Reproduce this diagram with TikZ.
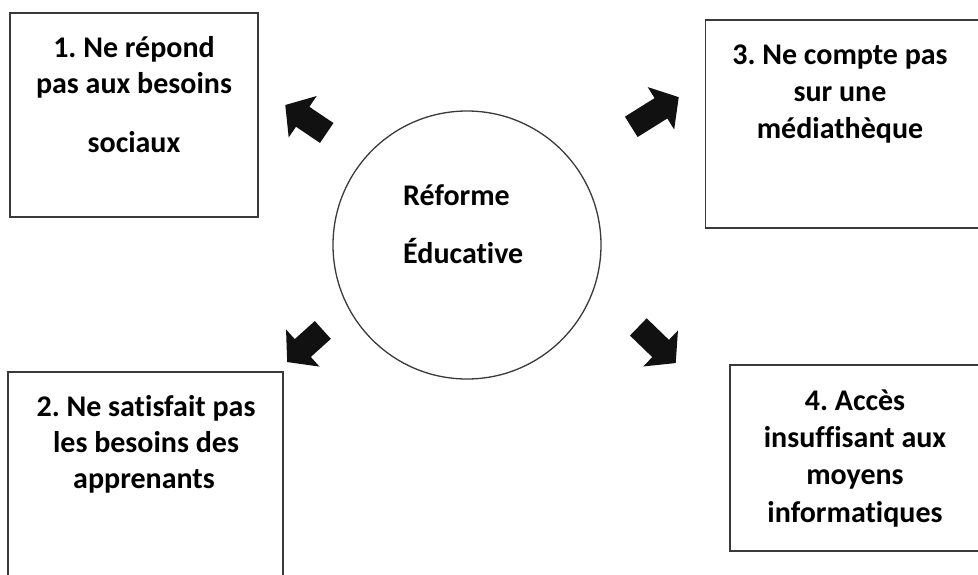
\documentclass[tikz,border=0pt]{standalone}
\usepackage{fontspec}
\setmainfont[Ligatures=NoCommon]{Carlito}
\definecolor{linegray}{HTML}{3A3A3A}
\definecolor{inkblack}{HTML}{111111}
\newcommand\myblockarrow[4]{% x, y, angle, length
  \begin{scope}[shift={(#1,#2)}, rotate=#3]
    \fill[inkblack] (-#4/2,-12) -- (#4/2-21,-12) -- (#4/2-21,-25) -- (#4/2,0)
      -- (#4/2-21,25) -- (#4/2-21,12) -- (-#4/2,12) -- cycle;
  \end{scope}}
\begin{document}
\frenchspacing
\begin{tikzpicture}[x=1pt,y=-1pt,
  box/.style={draw=linegray, line width=1.4pt, rectangle, inner sep=0pt},
  txt/.style={anchor=base, inner sep=0pt, font=\fontsize{30}{36}\selectfont\bfseries, text=black},
]
\useasboundingbox (0,0) rectangle (978,574);
\clip (0,0) rectangle (978,574);
\fill[white] (0,0) rectangle (978,574);

% boxes
\node[box, minimum width=248pt, minimum height=204pt] (b1) at (134,115) {};
\node[box, minimum width=275pt, minimum height=228pt] (b2) at (145.5,486) {};
\node[box, minimum width=285pt, minimum height=208pt] (b3) at (848,124) {};
\node[box, minimum width=262pt, minimum height=186pt] (b4) at (861,458) {};

% centre circle
\node[circle, draw=linegray, line width=1.3pt, minimum size=268pt, inner sep=0pt] (c) at (467,245) {};
\node[txt, anchor=base west] (c1) at (403,205) {Réforme};
\node[txt, anchor=base west] (c2) at (403,263) {Éducative};

% box texts
\node[txt] (t1a) at (134,57) {1. Ne répond};
\node[txt] (t1b) at (134,93) {pas aux besoins};
\node[txt] (t1c) at (134,152) {sociaux};

\node[txt] (t2a) at (146,416) {2. Ne satisfait pas};
\node[txt] (t2b) at (146,452) {les besoins des};
\node[txt] (t2c) at (144,488) {apprenants};

\node[txt] (t3a) at (840,64) {3. Ne compte pas};
\node[txt] (t3b) at (840,101) {sur une};
\node[txt] (t3c) at (840,138) {médiathèque};

\node[txt] (t4a) at (855,410) {4. Accès};
\node[txt] (t4b) at (855,447) {insuffisant aux};
\node[txt] (t4c) at (855,484) {moyens};
\node[txt] (t4d) at (855,522) {informatiques};

% block arrows
\myblockarrow{306}{119}{146}{50}
\myblockarrow{655}{112}{32}{56}
\myblockarrow{305}{346}{-138}{48}
\myblockarrow{657}{345}{-44}{52}
\end{tikzpicture}
\end{document}
